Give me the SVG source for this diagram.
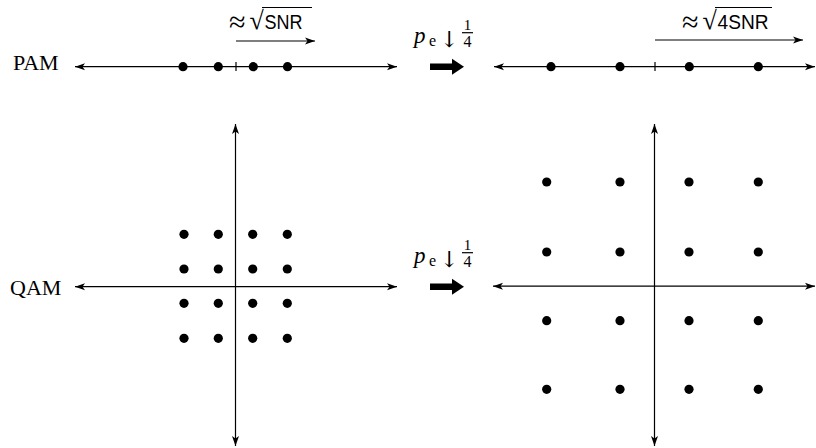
<svg xmlns="http://www.w3.org/2000/svg" width="816" height="448" viewBox="0 0 816 448">
<style>
.ax{stroke:#000;stroke-width:1.2;fill:none}
.dot{fill:#000}
.serif{font-family:"Liberation Serif","DejaVu Serif",serif;fill:#000}
.sans{font-family:"Liberation Sans","DejaVu Sans",sans-serif;fill:#000}
.arr{font-family:"DejaVu Serif","DejaVu Sans",serif;fill:#000}
.lbl{font-size:22px}
</style>
<defs>
<marker id="ah" markerUnits="userSpaceOnUse" markerWidth="12" markerHeight="10" refX="10" refY="5" orient="auto-start-reverse" viewBox="0 0 12 10">
<path d="M0,1.5 L10,5 L0,8.5 L2.5,5 Z" fill="#000"/>
</marker>
<circle id="d" r="4.6" class="dot"/>
<polygon id="big" points="0,-3.3 22,-3.3 22,-8 34,0 22,8 22,3.3 0,3.3" fill="#000"/>
</defs>
<rect width="816" height="448" fill="#fff"/>

<g id="label-pam"><text class="serif lbl" x="13" y="70">PAM</text></g>
<g id="label-qam"><text class="serif lbl" x="10" y="295">QAM</text></g>

<g id="pam-left">
<line class="ax" x1="75" y1="66.7" x2="397" y2="66.7" marker-start="url(#ah)" marker-end="url(#ah)"/>
<line class="ax" x1="236" y1="62" x2="236" y2="71"/>
<use href="#d" x="183" y="66.7"/><use href="#d" x="218.3" y="66.7"/><use href="#d" x="253.3" y="66.7"/><use href="#d" x="287.5" y="66.7"/>
</g>

<g id="pam-right">
<line class="ax" x1="494" y1="66.7" x2="815" y2="66.7" marker-start="url(#ah)" marker-end="url(#ah)"/>
<line class="ax" x1="655" y1="62" x2="655" y2="71"/>
<use href="#d" x="551" y="66.7"/><use href="#d" x="620" y="66.7"/><use href="#d" x="689.3" y="66.7"/><use href="#d" x="758.3" y="66.7"/>
</g>

<g id="qam-left">
<line class="ax" x1="75" y1="286.7" x2="397" y2="286.7" marker-start="url(#ah)" marker-end="url(#ah)"/>
<line class="ax" x1="235.5" y1="124" x2="235.5" y2="446" marker-start="url(#ah)" marker-end="url(#ah)"/>
<use href="#d" x="184" y="234.3"/><use href="#d" x="218.3" y="234.3"/><use href="#d" x="252.7" y="234.3"/><use href="#d" x="287.3" y="234.3"/>
<use href="#d" x="184" y="269"/><use href="#d" x="218.3" y="269"/><use href="#d" x="252.7" y="269"/><use href="#d" x="287.3" y="269"/>
<use href="#d" x="184" y="303.3"/><use href="#d" x="218.3" y="303.3"/><use href="#d" x="252.7" y="303.3"/><use href="#d" x="287.3" y="303.3"/>
<use href="#d" x="184" y="338.3"/><use href="#d" x="218.3" y="338.3"/><use href="#d" x="252.7" y="338.3"/><use href="#d" x="287.3" y="338.3"/>
</g>

<g id="qam-right">
<line class="ax" x1="493" y1="286.2" x2="815" y2="286.2" marker-start="url(#ah)" marker-end="url(#ah)"/>
<line class="ax" x1="654.5" y1="124" x2="654.5" y2="446" marker-start="url(#ah)" marker-end="url(#ah)"/>
<use href="#d" x="546.7" y="182"/><use href="#d" x="620" y="182"/><use href="#d" x="689" y="182"/><use href="#d" x="758.3" y="182"/>
<use href="#d" x="546.7" y="252"/><use href="#d" x="620" y="252"/><use href="#d" x="689" y="252"/><use href="#d" x="758.3" y="252"/>
<use href="#d" x="546.7" y="320.7"/><use href="#d" x="620" y="320.7"/><use href="#d" x="689" y="320.7"/><use href="#d" x="758.3" y="320.7"/>
<use href="#d" x="546.7" y="389.3"/><use href="#d" x="620" y="389.3"/><use href="#d" x="689" y="389.3"/><use href="#d" x="758.3" y="389.3"/>
</g>

<g id="snr-left">
<line class="ax" x1="262" y1="7.5" x2="312" y2="7.5"/>
<text class="serif" font-size="30" x="229" y="32">≈</text>
<text class="serif" font-size="26" x="249.5" y="29">√</text>
<text class="sans" font-size="20" x="264.5" y="29" textLength="38" lengthAdjust="spacingAndGlyphs">SNR</text>
</g>

<g id="snr-right">
<line class="ax" x1="715" y1="7.5" x2="772" y2="7.5"/>
<text class="serif" font-size="30" x="682" y="32">≈</text>
<text class="serif" font-size="26" x="702.5" y="29">√</text>
<text class="sans" font-size="20" x="717.5" y="29" textLength="51" lengthAdjust="spacingAndGlyphs">4SNR</text>
</g>

<g id="pe-top">
<text class="serif" font-size="23" font-style="italic" x="414" y="43">p</text>
<text class="serif" font-size="16" x="429" y="46">e</text>
<text class="arr" font-size="22" x="440" y="47">↓</text>
<text class="serif" font-size="15" x="467.5" y="30" text-anchor="middle">1</text>
<line class="ax" x1="462" y1="32.7" x2="473" y2="32.7" stroke-width="0.9"/>
<text class="serif" font-size="16" x="467.5" y="46.5" text-anchor="middle">4</text>
</g>

<g id="pe-bottom">
<text class="serif" font-size="23" font-style="italic" x="414" y="263">p</text>
<text class="serif" font-size="16" x="429" y="266">e</text>
<text class="arr" font-size="22" x="440" y="267">↓</text>
<text class="serif" font-size="15" x="467.5" y="250" text-anchor="middle">1</text>
<line class="ax" x1="462" y1="252.7" x2="473" y2="252.7" stroke-width="0.9"/>
<text class="serif" font-size="16" x="467.5" y="266.5" text-anchor="middle">4</text>
</g>

<g id="connectors">
<line class="ax" x1="236" y1="41" x2="315" y2="41" marker-end="url(#ah)"/>
<line class="ax" x1="655" y1="40" x2="803" y2="40" marker-end="url(#ah)"/>
<use href="#big" x="430" y="66.7"/>
<use href="#big" x="430" y="286.7"/>
</g>
</svg>
